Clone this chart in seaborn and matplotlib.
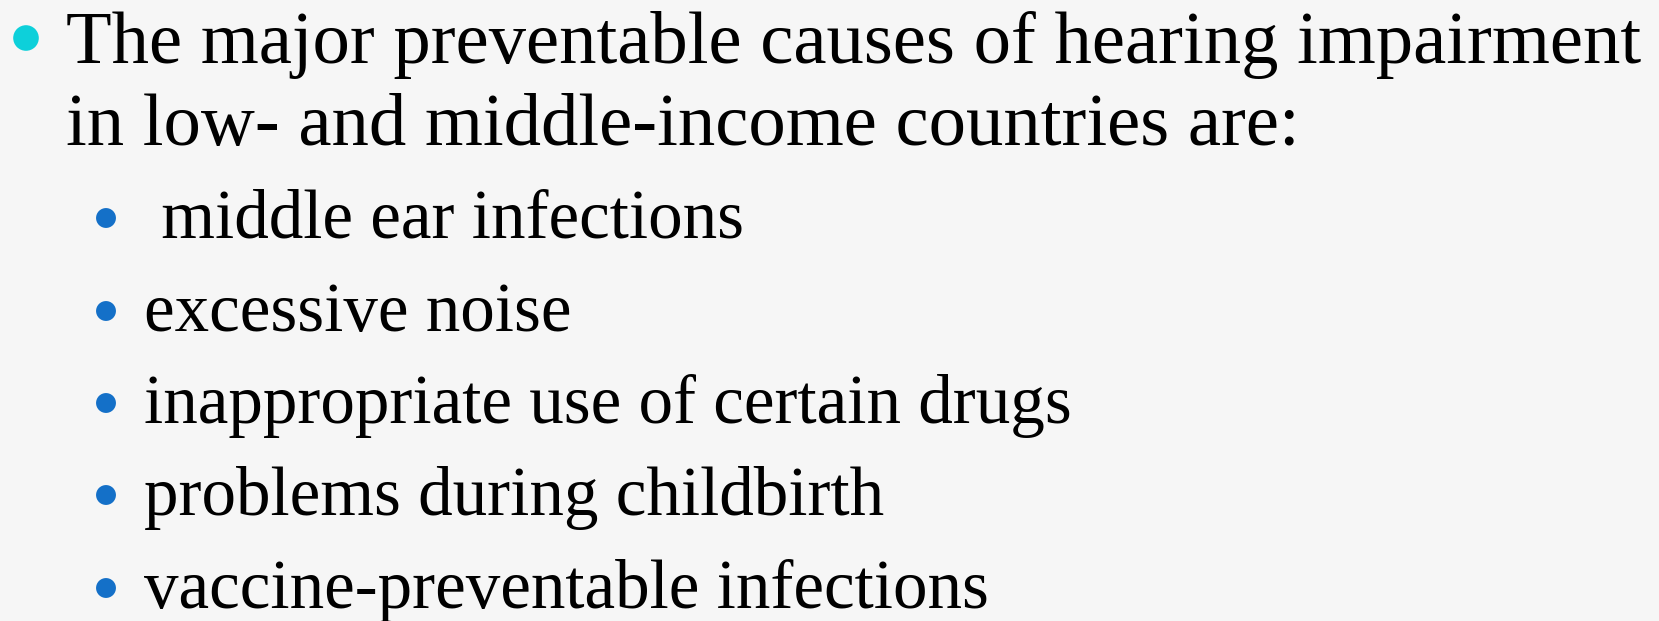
import matplotlib
matplotlib.use("Agg")
import matplotlib.pyplot as plt
import seaborn as sns
import pandas as pd

W, H = 1659, 621

main_lines = ["The major preventable causes of hearing impairment",
              "in low- and middle-income countries are:"]
sub_items = [" middle ear infections",
             "excessive noise",
             "inappropriate use of certain drugs",
             "problems during childbirth",
             "vaccine-preventable infections"]

sns.set_theme(style="white")
plt.rcParams['font.family'] = ['Liberation Serif', 'DejaVu Serif']

fig = plt.figure(figsize=(W / 100, H / 100), dpi=100)
fig.patch.set_facecolor("#f6f6f6")
ax = fig.add_axes([0, 0, 1, 1])
ax.set_facecolor("#f6f6f6")
ax.set_xlim(0, W)
ax.set_ylim(H, 0)
ax.axis("off")

# layout (pixels)
main_x = 66
main_base = [63, 145]
sub_x = 144
sub_base = [238, 331, 423, 515, 608]

renderer = fig.canvas.get_renderer()

def fit_size(text, target_w, ref=40):
    t = ax.text(0, 0, text, fontsize=ref)
    w = t.get_window_extent(renderer=renderer).width
    t.remove()
    return ref * target_w / w

main_fs = fit_size(main_lines[0], 1572)
sub_fs = fit_size(sub_items[2], 925)

for txt, yb in zip(main_lines, main_base):
    ax.text(main_x, yb, txt, fontsize=main_fs, color="black", va="baseline", ha="left")
for txt, yb in zip(sub_items, sub_base):
    ax.text(sub_x, yb, txt, fontsize=sub_fs, color="black", va="baseline", ha="left")

bul_main = pd.DataFrame({"x": [26], "y": [38]})
bul_sub = pd.DataFrame({"x": [106] * len(sub_items), "y": [b - 20 for b in sub_base]})
sns.scatterplot(data=bul_main, x="x", y="y", ax=ax, s=340, color="#0dd0da", edgecolor="none", legend=False)
sns.scatterplot(data=bul_sub, x="x", y="y", ax=ax, s=205, color="#1470c8", edgecolor="none", legend=False)
ax.set_xlim(0, W)
ax.set_ylim(H, 0)
ax.axis("off")

fig.savefig("out.png", dpi=100, facecolor=fig.get_facecolor())
